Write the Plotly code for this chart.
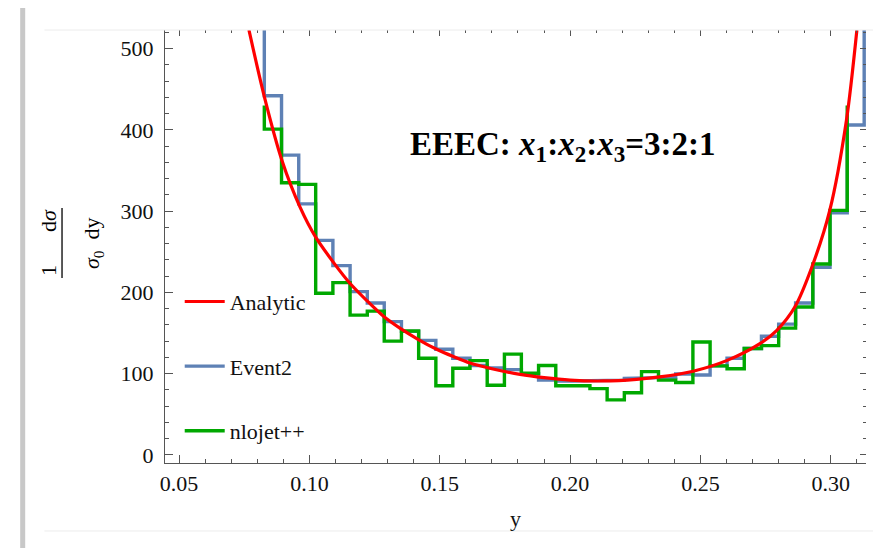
import plotly.graph_objects as go

# ---------------- data ----------------
bin_edges = [0.0827, 0.0893, 0.0959, 0.1024, 0.1090, 0.1156, 0.1222, 0.1287,
             0.1353, 0.1419, 0.1485, 0.1550, 0.1616, 0.1682, 0.1748, 0.1813,
             0.1879, 0.1945, 0.2011, 0.2076, 0.2142, 0.2208, 0.2274, 0.2339,
             0.2405, 0.2471, 0.2537, 0.2602, 0.2668, 0.2734, 0.2800, 0.2865,
             0.2931, 0.2997, 0.3063, 0.3128]

event2_vals = [442, 369, 309, 264, 233, 201, 187, 164, 152, 141, 130, 119,
               110, 107, 105, 100, 92, 91, 91, 92, 92, 94, 95, 95.5,
               99.6, 98.4, 109.5, 119, 131, 146, 161, 187, 231, 298, 406]
event2_outer = [700, 700]   # neighbouring bins, off the top of the chart

nlojet_vals = [401, 335, 333, 199, 212, 172, 177, 140, 152.5, 119, 85, 106.6,
               116, 85.7, 124, 100.5, 110, 85, 85, 81.6, 67.7, 76.5, 102.5, 92,
               89, 139, 109.5, 106, 131, 134.5, 156, 182, 235, 301]
nlojet_outer = [430, 430]

analytic_x = [0.0768, 0.0827, 0.0894, 0.0964, 0.1024, 0.1092, 0.1156, 0.1220,
              0.1290, 0.1347, 0.1418, 0.1488, 0.1552, 0.1616, 0.1700, 0.1808,
              0.1900, 0.2000, 0.2127, 0.2255, 0.2344, 0.2472, 0.2600, 0.2728,
              0.2792, 0.2862, 0.2926, 0.2996, 0.3060, 0.3100]
analytic_y = [523, 441, 363, 305, 268, 237, 211, 190, 169, 156, 142, 130,
              121, 113, 106, 99, 95, 92, 91, 93, 96, 103, 116, 137,
              153, 182, 230, 301, 412, 523]

x_tick_vals = [0.05, 0.10, 0.15, 0.20, 0.25, 0.30]
y_tick_vals = [0, 100, 200, 300, 400, 500]


def step_path(edges, vals, outer):
    xs = [edges[0]]
    ys = [outer[0]]
    for i, v in enumerate(vals):
        xs += [edges[i], edges[i + 1]]
        ys += [v, v]
    xs.append(edges[len(vals)])
    ys.append(outer[1])
    return xs, ys


ex, ey = step_path(bin_edges, event2_vals, event2_outer)
nx, ny = step_path(bin_edges, nlojet_vals, nlojet_outer)

BLUE = "#5E81B5"
GREEN = "#00A800"
RED = "#FF0000"
FONT = "Liberation Serif"

fig = go.Figure()
fig.add_trace(go.Scatter(x=ex, y=ey, mode="lines", name="Event2",
                         line=dict(color=BLUE, width=3.4), legendgroup="b",
                         legendrank=2))
fig.add_trace(go.Scatter(x=nx, y=ny, mode="lines", name="nlojet++",
                         line=dict(color=GREEN, width=3.4), legendgroup="c",
                         legendrank=3))
fig.add_trace(go.Scatter(x=analytic_x, y=analytic_y, mode="lines", name="Analytic",
                         line=dict(color=RED, width=3.2, shape="spline", smoothing=0.8),
                         legendgroup="a", legendrank=1))
# helper trace so the mirrored frame axes exist
fig.add_trace(go.Scatter(x=[None], y=[None], xaxis="x2", yaxis="y2",
                         showlegend=False, hoverinfo="skip"))

xr = [0.0446, 0.3135]
yr = [-10, 523]
AX = "#555555"
TICKFONT = dict(family=FONT, size=22, color="#111111")

fig.update_layout(
    width=873, height=540,
    margin=dict(l=157, r=15, t=22, b=85),
    paper_bgcolor="white", plot_bgcolor="white",
    font=dict(family=FONT, size=20, color="#111111"),
    showlegend=True,
    legend=dict(x=0.021, y=0.421, xanchor="left", yanchor="top",
                bgcolor="rgba(0,0,0,0)", font=dict(family=FONT, size=22, color="#111"),
                tracegroupgap=33, itemwidth=40),
    xaxis=dict(range=xr, showgrid=False, zeroline=False, showline=True,
               automargin=False,
               linecolor=AX, linewidth=1.2, ticks="inside", ticklen=8,
               tickcolor=AX, tickvals=x_tick_vals, tickformat=".2f",
               tickfont=TICKFONT,
               minor=dict(dtick=0.01, tick0=0.0, ticks="inside", ticklen=4,
                          tickcolor=AX),
               title=dict(text="y", font=dict(family=FONT, size=22), standoff=16)),
    yaxis=dict(range=yr, showgrid=False, zeroline=False, showline=True,
               automargin=False, ticklabelstandoff=6,
               linecolor=AX, linewidth=1.2, ticks="inside", ticklen=8,
               tickcolor=AX, tickvals=y_tick_vals, tickfont=TICKFONT,
               minor=dict(dtick=20, tick0=0, ticks="inside", ticklen=4,
                          tickcolor=AX)),
    xaxis2=dict(range=xr, overlaying="x", side="top", showgrid=False,
                automargin=False,
                zeroline=False, showline=False, ticks="inside", ticklen=6,
                tickcolor=AX, tickvals=x_tick_vals, showticklabels=False,
                minor=dict(dtick=0.01, tick0=0.0, ticks="inside", ticklen=3,
                           tickcolor=AX)),
    yaxis2=dict(range=yr, overlaying="y", side="right", showgrid=False,
                automargin=False,
                zeroline=False, showline=False, ticks="inside", ticklen=6,
                tickcolor=AX, tickvals=y_tick_vals, showticklabels=False,
                minor=dict(dtick=20, tick0=0, ticks="inside", ticklen=3,
                           tickcolor=AX)),
)

# notebook-style frame around the picture
fig.add_shape(type="line", xref="paper", yref="paper", x0=-0.203, x1=-0.203,
              y0=-0.2, y1=1.1, line=dict(color="#c8c8c8", width=5))
fig.add_shape(type="line", xref="paper", yref="paper", x0=-0.172, x1=1.03,
              y0=1.0, y1=1.0, line=dict(color="#ececec", width=1))
fig.add_shape(type="line", xref="paper", yref="paper", x0=-0.172, x1=1.03,
              y0=-0.157, y1=-0.157, line=dict(color="#ececec", width=1))

# in-plot label
fig.add_annotation(xref="paper", yref="paper", x=0.568, y=0.730,
                   xanchor="center", yanchor="middle",
                   text="<b>EEEC: <i>x</i><sub>1</sub>:<i>x</i><sub>2</sub>:<i>x</i><sub>3</sub>=3:2:1</b>",
                   showarrow=False, font=dict(family=FONT, size=33, color="black"))

# y-axis title built as a fraction  (1/σ0)(dσ/dy)
fig.add_annotation(xref="paper", yref="paper", x=-0.1669, y=0.508,
                   xanchor="center", yanchor="middle",
                   text="1\u2003\u2002d<i>σ</i>", textangle=-90, showarrow=False,
                   font=dict(family=FONT, size=22, color="black"))
fig.add_shape(type="line", xref="paper", yref="paper", x0=-0.1469, x1=-0.1469,
              y0=0.427, y1=0.589, line=dict(color="black", width=1.3))
fig.add_annotation(xref="paper", yref="paper", x=-0.1027, y=0.508,
                   xanchor="center", yanchor="middle",
                   text="<i>σ</i><sub>0</sub>\u2002dy", textangle=-90, showarrow=False,
                   font=dict(family=FONT, size=22, color="black"))

fig.write_html("out.html")
